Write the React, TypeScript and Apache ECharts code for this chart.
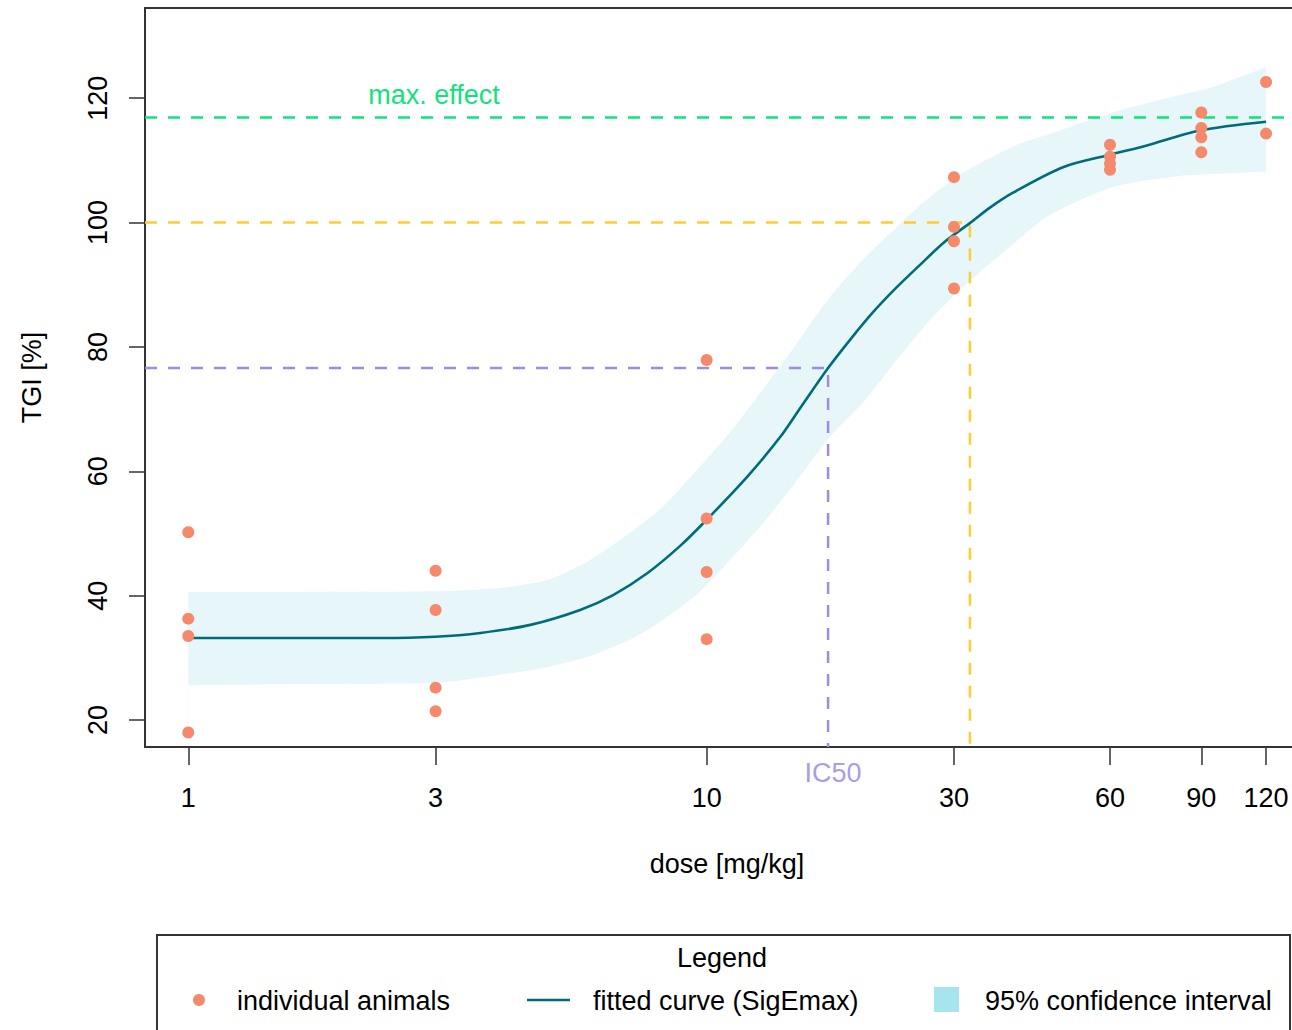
import React, { useEffect, useRef } from "react";
import * as echarts from "echarts";

// Individual animals: dose [mg/kg] and TGI [%]
const animalDose = [1, 1, 1, 1, 3, 3, 3, 3, 10, 10, 10, 10, 30, 30, 30, 30, 60, 60, 60, 60, 90, 90, 90, 90, 120, 120];
const animalTgi = [
  50.2, 36.3, 33.5, 18.0,
  44.0, 37.7, 25.2, 21.4,
  77.9, 52.4, 43.8, 33.0,
  107.3, 99.3, 97.0, 89.4,
  112.5, 110.6, 109.5, 108.5,
  117.7, 115.2, 113.7, 111.3,
  122.6, 114.3,
];

// Fitted SigEmax curve
const curveDose = [1, 1.64, 2.35, 3, 3.66, 4.57, 5.7, 6.6, 7.68, 8.89, 10, 11.97, 13.86, 15.19, 17.15, 18.89, 20.9, 23.27, 25.8, 28.8, 32.2, 35.2, 39.0, 48.7, 60.0, 70.7, 89.5, 120];
const curveTgi = [33.2, 33.2, 33.2, 33.4, 34.0, 35.3, 37.7, 40.1, 43.6, 48.0, 52.2, 59.1, 65.5, 70.3, 76.6, 81.1, 85.5, 89.6, 93.2, 96.9, 99.9, 102.4, 104.8, 108.9, 110.9, 112.4, 114.8, 116.2];

// 95% confidence band (lower and upper bound at the same doses)
const bandDose = [1, 1.64, 3, 3.94, 4.92, 5.95, 7.11, 8.23, 9.57, 11.08, 12.83, 14.93, 17.28, 20.01, 23.27, 26.95, 31.2, 38.96, 45.3, 60.73, 81.8, 94.7, 120];
const bandLower = [25.6, 25.8, 26.0, 27.2, 28.5, 30.3, 32.9, 36.1, 40.2, 45.7, 51.6, 58.5, 65.5, 71.0, 77.9, 84.3, 89.6, 96.5, 100.9, 105.7, 107.5, 107.8, 108.2];
const bandUpper = [40.6, 40.6, 40.7, 41.2, 42.5, 45.7, 50.1, 54.3, 60.2, 66.2, 73.1, 80.6, 88.0, 94.0, 99.3, 104.1, 108.0, 112.2, 114.1, 117.7, 120.5, 121.8, 125.0];

// Reference levels
const maxEffect = 116.9;
const ic50Dose = 17.15;
const ic50Tgi = 76.6;
const regressionDose = 32.2;
const regressionTgi = 100;

// Axis ticks
const xTicks = [1, 3, 10, 30, 60, 90, 120];
const yTicks = [20, 40, 60, 80, 100, 120];

const FONT = "'Liberation Sans', Arial, sans-serif";
const C_POINT = "#f4896b";
const C_CURVE = "#006b79";
const C_BAND = "#e6f6f9";
const C_BAND_KEY = "#a6e4ee";
const C_GREEN = "#10e37c";
const C_YELLOW = "#ffcc33";
const C_PURPLE = "#9b8de3";
const C_AXIS = "#333333";

const lg = (d: number) => Math.log10(d);

export default function App() {
  const ref = useRef<HTMLDivElement>(null);

  useEffect(() => {
    if (!ref.current) return;
    const chart = echarts.init(ref.current, null, { renderer: "svg" });

    const xMin = -0.0835;
    const xMax = 2.162;
    const yMin = 15.66;
    const yMax = 134.5;
    const bandBase = 16.2;

    const xTickLog = xTicks.map(lg);

    const dashed = (color: string, data: number[][]) => ({
      type: "line",
      data,
      symbol: "none",
      silent: true,
      lineStyle: { color, width: 2.5, type: [12, 11] },
      z: 3,
    });

    const textStyle = (text: string, fill: string, x: number, y: number, align = "center") => ({
      type: "text",
      x,
      y,
      style: { text, fill, font: `27px ${FONT}`, align, verticalAlign: "middle" },
    });

    chart.setOption({
      animation: false,
      backgroundColor: "#ffffff",
      grid: {
        left: 145,
        top: 8,
        right: 11,
        bottom: 283,
        show: true,
        borderColor: C_AXIS,
        borderWidth: 2,
        backgroundColor: "transparent",
        containLabel: false,
        outerBoundsMode: "none",
      },
      xAxis: {
        type: "value",
        min: xMin,
        max: xMax,
        name: "dose [mg/kg]",
        nameLocation: "middle",
        nameGap: 103,
        nameTextStyle: { fontSize: 27, fontFamily: FONT, color: "#000" },
        axisLine: { show: false, onZero: false },
        splitLine: { show: false },
        axisTick: { show: true, customValues: xTickLog, length: 18, lineStyle: { color: C_AXIS, width: 1.5 } },
        axisLabel: {
          customValues: xTickLog,
          formatter: (v: number) => String(Math.round(Math.pow(10, v))),
          margin: 37,
          fontSize: 27,
          fontFamily: FONT,
          color: "#000",
        },
      },
      yAxis: {
        type: "value",
        min: yMin,
        max: yMax,
        name: "TGI [%]",
        nameLocation: "middle",
        nameGap: 100,
        nameRotate: 90,
        nameTextStyle: { fontSize: 27, fontFamily: FONT, color: "#000" },
        axisLine: { show: false, onZero: false },
        splitLine: { show: false },
        axisTick: { show: true, customValues: yTicks, length: 16, lineStyle: { color: C_AXIS, width: 1.5 } },
        axisLabel: {
          customValues: yTicks,
          rotate: 90,
          margin: 34,
          fontSize: 27,
          fontFamily: FONT,
          color: "#000",
        },
      },
      series: [
        {
          // upper bound of the band, filled downwards
          type: "line",
          data: bandDose.map((d, i) => [lg(d), bandUpper[i]]),
          symbol: "none",
          smooth: 0.25,
          silent: true,
          lineStyle: { width: 0, opacity: 0 },
          areaStyle: { color: C_BAND, opacity: 1, origin: bandBase },
          z: 1,
        },
        {
          // lower bound of the band, clears the fill below it
          type: "line",
          data: bandDose.map((d, i) => [lg(d), bandLower[i]]),
          symbol: "none",
          smooth: 0.25,
          silent: true,
          lineStyle: { width: 0, opacity: 0 },
          areaStyle: { color: "#ffffff", opacity: 1, origin: bandBase },
          z: 1,
        },
        dashed(C_GREEN, [[xMin, maxEffect], [xMax, maxEffect]]),
        dashed(C_YELLOW, [[xMin, regressionTgi], [lg(regressionDose), regressionTgi], [lg(regressionDose), yMin]]),
        dashed(C_PURPLE, [[xMin, ic50Tgi], [lg(ic50Dose), ic50Tgi], [lg(ic50Dose), yMin]]),
        {
          type: "line",
          data: curveDose.map((d, i) => [lg(d), curveTgi[i]]),
          symbol: "none",
          smooth: 0.3,
          silent: true,
          lineStyle: { color: C_CURVE, width: 2.6 },
          z: 4,
        },
        {
          type: "scatter",
          data: animalDose.map((d, i) => [lg(d), animalTgi[i]]),
          symbol: "circle",
          symbolSize: 12,
          itemStyle: { color: C_POINT, opacity: 1 },
          z: 5,
        },
      ],
      graphic: [
        textStyle("max. effect", C_GREEN, 434, 95),
        textStyle("IC50", "#a89ee8", 833, 773),
        textStyle("regression", C_YELLOW, 1053, 720),
        { type: "line", shape: { x1: 995, y1: 689, x2: 1085, y2: 689 }, style: { stroke: C_YELLOW, lineWidth: 2.5 } },
        {
          type: "polyline",
          shape: { points: [[1062, 677], [1085, 689], [1062, 701]] },
          style: { stroke: C_YELLOW, lineWidth: 2.5, fill: "none" },
        },
        // legend box
        {
          type: "rect",
          shape: { x: 157, y: 935, width: 1133, height: 140 },
          style: { stroke: C_AXIS, lineWidth: 2, fill: "none" },
        },
        textStyle("Legend", "#000", 722, 958),
        { type: "circle", shape: { cx: 199, cy: 1000, r: 6 }, style: { fill: C_POINT } },
        textStyle("individual animals", "#000", 237, 1001, "left"),
        { type: "line", shape: { x1: 527, y1: 1000, x2: 570, y2: 1000 }, style: { stroke: C_CURVE, lineWidth: 2.6 } },
        textStyle("fitted curve (SigEmax)", "#000", 593, 1001, "left"),
        { type: "rect", shape: { x: 934, y: 987, width: 25, height: 25 }, style: { fill: C_BAND_KEY } },
        textStyle("95% confidence interval", "#000", 985, 1001, "left"),
      ],
    });

    return () => chart.dispose();
  }, []);

  return (
    <div style={{ position: "absolute", left: 0, top: 0, width: 1292, height: 1030, overflow: "hidden", background: "#fff" }}>
      <div ref={ref} style={{ width: 1320, height: 1030 }} />
    </div>
  );
}
